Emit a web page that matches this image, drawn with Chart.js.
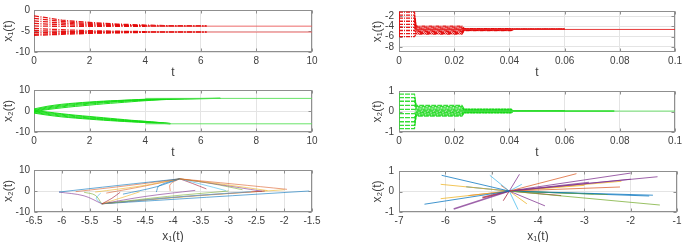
<!DOCTYPE html>
<html><head><meta charset="utf-8">
<script src="https://cdn.jsdelivr.net/npm/chart.js@4/dist/chart.umd.min.js"></script>
<style>
body{margin:0;width:685px;height:242px;overflow:hidden;background:#fff;position:relative}
canvas{position:absolute}
</style></head><body>
<canvas id="cA" width="340" height="80" style="left:0;top:0"></canvas>
<canvas id="cB" width="316" height="80" style="left:369px;top:0"></canvas>
<canvas id="cC" width="340" height="80" style="left:0;top:80px"></canvas>
<canvas id="cD" width="316" height="80" style="left:369px;top:80px"></canvas>
<canvas id="cE" width="340" height="84" style="left:0;top:160px"></canvas>
<canvas id="cF" width="316" height="84" style="left:369px;top:160px"></canvas>
<script>
// ---------- tick labels ----------
const xTicksSlow = [0, 2, 4, 6, 8, 10];
const xTicksFast = [0, 0.02, 0.04, 0.06, 0.08, 0.1];
const yTicksA = [-10, -5, 0];
const yTicksB = [-8, -6, -4, -2];
const yTicksC = [-10, 0, 10];
const yTicksD = [-1, 0, 1];
const xTicksE = [-6.5, -6, -5.5, -5, -4.5, -4, -3.5, -3, -2.5, -2, -1.5];
const yTicksE = [-10, 0, 10];
const xTicksF = [-7, -6, -5, -4, -3, -2, -1];
const yTicksF = [-1, 0, 1];

// ---------- panel A: x1(t), t in [0,10] ----------
const tA = [0, 0.5, 1, 1.5, 2, 3, 4, 5, 6.2];
const x1A = [
  [-1.4, -1.9, -2.4, -2.7, -2.95, -3.35, -3.6, -3.78, -3.85],
  [-2.0, -2.35, -2.7, -3.0, -3.2, -3.5, -3.7, -3.82, -3.85],
  [-2.6, -2.85, -3.1, -3.3, -3.45, -3.65, -3.78, -3.84, -3.85],
  [-3.2, -3.35, -3.5, -3.6, -3.68, -3.76, -3.82, -3.85, -3.85],
  [-3.8, -3.85, -3.9, -3.92, -3.92, -3.9, -3.88, -3.86, -3.85],
  [-4.4, -4.55, -4.7, -4.82, -4.92, -5.05, -5.15, -5.22, -5.25],
  [-4.9, -5.0, -5.08, -5.13, -5.17, -5.2, -5.23, -5.25, -5.25],
  [-5.4, -5.38, -5.35, -5.33, -5.31, -5.29, -5.27, -5.26, -5.25],
  [-5.8, -5.7, -5.6, -5.52, -5.45, -5.37, -5.31, -5.27, -5.25],
  [-6.05, -5.92, -5.8, -5.68, -5.55, -5.42, -5.33, -5.28, -5.25]
];
const tASteady = [4, 10];
const x1ASteady = [[-3.85, -3.85], [-5.25, -5.25]];

// ---------- panel B: x1(t), t in [0,0.1] ----------
const tB = [0, 0.0056, 0.0062, 0.0228, 0.0236, 0.0406, 0.0414, 0.06];
const x1B = [
  [-1.2, -1.2, -3.95, -3.95, -4.42, -4.42, -4.6, -4.6],
  [-1.8, -1.8, -4.15, -4.15, -4.47, -4.47, -4.6, -4.6],
  [-2.4, -2.4, -4.35, -4.35, -4.52, -4.52, -4.6, -4.6],
  [-3.0, -3.0, -4.55, -4.55, -4.57, -4.57, -4.6, -4.6],
  [-3.6, -3.6, -4.75, -4.75, -4.62, -4.62, -4.6, -4.6],
  [-4.2, -4.2, -4.95, -4.95, -4.67, -4.67, -4.6, -4.6],
  [-4.8, -4.8, -5.15, -5.15, -4.72, -4.72, -4.6, -4.6],
  [-5.4, -5.4, -5.35, -5.35, -4.77, -4.77, -4.6, -4.6],
  [-6.0, -6.0, -5.5, -5.5, -4.8, -4.8, -4.6, -4.6]
];
const tBInit = [0, 0];
const x1BInit = [-1.2, -6.0];
const tBSteady = [0.006, 0.1];
const x1BSteady = [-4.6, -4.6];

// ---------- panel C: x2(t), t in [0,10] ----------
const tCUp = [0, 0.5, 1, 1.5, 2, 2.5, 3, 3.5, 4, 5, 6.7];
const x2CUp = [
  [1.0, 2.3, 3.2, 3.8, 4.3, 4.7, 5.0, 5.3, 5.6, 5.9, 6.0],
  [0.6, 1.9, 2.8, 3.5, 4.0, 4.5, 4.9, 5.2, 5.5, 5.85, 6.0],
  [0.3, 1.5, 2.4, 3.1, 3.7, 4.2, 4.6, 5.0, 5.3, 5.8, 6.0],
  [0.0, 1.1, 2.0, 2.7, 3.3, 3.9, 4.4, 4.8, 5.1, 5.7, 6.0],
  [-0.3, 0.7, 1.5, 2.2, 2.8, 3.4, 3.9, 4.4, 4.9, 5.6, 6.0]
];
const tCLow = [0, 0.5, 1, 1.5, 2, 2.5, 3, 3.5, 4, 4.9];
const x2CLow = [
  [-1.0, -2.0, -2.8, -3.4, -3.9, -4.4, -4.8, -5.2, -5.5, -6.1],
  [-0.7, -1.6, -2.4, -3.1, -3.6, -4.1, -4.6, -5.0, -5.4, -6.05],
  [-0.4, -1.2, -2.0, -2.7, -3.3, -3.8, -4.3, -4.8, -5.2, -6.0],
  [-0.1, -0.8, -1.6, -2.3, -2.9, -3.5, -4.1, -4.6, -5.0, -5.95],
  [0.2, -0.5, -1.3, -2.0, -2.6, -3.2, -3.8, -4.4, -4.9, -5.9]
];
const tCSteady = [4, 10];
const x2CSteady = [[6.0, 6.0], [-6.1, -6.1]];

// ---------- panel D: x2(t), t in [0,0.1] ----------
const tD = [0, 0.0056, 0.0062, 0.0228, 0.0236, 0.0406, 0.0414, 0.06];
const x2D = [
  [0.85, 0.85, 0.3, 0.3, 0.12, 0.12, 0.02, 0.02],
  [0.68, 0.68, 0.24, 0.24, 0.1, 0.1, 0.02, 0.02],
  [0.5, 0.5, 0.18, 0.18, 0.07, 0.07, 0.02, 0.02],
  [0.3, 0.3, 0.12, 0.12, 0.05, 0.05, 0.02, 0.02],
  [0.1, 0.1, 0.06, 0.06, 0.03, 0.03, 0.02, 0.02],
  [-0.1, -0.1, 0.0, 0.0, 0.01, 0.01, 0.02, 0.02],
  [-0.3, -0.3, -0.06, -0.06, -0.01, -0.01, 0.02, 0.02],
  [-0.5, -0.5, -0.12, -0.12, -0.03, -0.03, 0.02, 0.02],
  [-0.68, -0.68, -0.17, -0.17, -0.05, -0.05, 0.02, 0.02],
  [-0.84, -0.84, -0.22, -0.22, -0.07, -0.07, 0.02, 0.02]
];
const tDInit = [0, 0];
const x2DInit = [0.85, -0.84];
const tDTail = [0.041, 0.078];
const x2DTail = [0.02, 0.02];
const tDSteady = [0.006, 0.1];
const x2DSteady = [0.02, 0.02];

// ---------- panel E: phase plane (x1, x2), slow ----------
const phaseEx = [
  [-6.05, -5.0, -3.88], [-5.75, -4.8, -3.88], [-5.4, -4.6, -3.88],
  [-6.05, -5.6, -5.28], [-5.6, -5.4, -5.28], [-5.3, -5.38, -5.28],
  [-4.95, -5.1, -5.28], [-4.3, -4.25, -3.88], [-4.05, -4.05, -3.88],
  [-4.6, -4.9, -5.28], [-3.6, -4.5, -5.28], [-3.0, -4.1, -5.28],
  [-2.6, -3.9, -5.28], [-2.35, -3.8, -5.28], [-1.55, -3.4, -5.28],
  [-1.95, -2.9, -3.88], [-2.3, -3.05, -3.88], [-2.4, -3.2, -3.88],
  [-2.75, -3.3, -3.88], [-3.05, -3.5, -3.88], [-3.4, -3.65, -3.88],
  [-4.9, -4.3, -3.88], [-5.2, -4.5, -3.88], [-2.0, -3.6, -5.28]
];
const phaseEy = [
  [-0.5, 2.6, 5.8], [-0.3, 2.6, 5.8], [-0.5, 2.3, 5.8],
  [-0.5, -2.3, -6.1], [-0.6, -2.0, -6.1], [-1.0, -3.5, -6.1],
  [-0.6, -3.5, -6.1], [-0.5, 2.5, 5.8], [0.0, 3.2, 5.8],
  [-0.4, -3.0, -6.1], [0.3, -2.6, -6.1], [0.0, -2.6, -6.1],
  [-0.3, -2.8, -6.1], [0.0, -2.6, -6.1], [0.0, -3.0, -6.1],
  [0.8, 3.3, 5.8], [0.2, 3.0, 5.8], [-0.1, 3.2, 5.8],
  [0.6, 3.5, 5.8], [0.2, 3.3, 5.8], [1.0, 3.6, 5.8],
  [-1.5, 2.0, 5.8], [-1.0, 2.4, 5.8], [0.6, -2.4, -6.1]
];

// ---------- panel F: phase plane (x1, x2), fast ----------
const centerF = [-4.62, 0.02];
const startFx = [-6.08, -6.45, -5.82, -5.04, -4.4, -3.17, -2.0, -1.42, -1.37, -1.52,
  -3.85, -4.43, -4.24, -6.1, -6.1, -5.55, -2.23, -2.8, -2.0, -2.2,
  -4.75, -5.5, -3.0, -2.5, -4.35, -4.8, -3.5, -5.2, -1.6, -2.9];
const startFy = [0.79, -0.62, -0.85, 0.79, 0.84, 0.87, 0.9, 0.72, -0.66, -0.18,
  -0.7, -0.88, -0.6, 0.35, -0.35, 0.23, 0.22, -0.12, 0.6, 0.5,
  -0.45, -0.2, 0.3, -0.15, 0.35, 0.3, -0.2, -0.3, -0.22, 0.45];

// ---------- styling ----------
const palette = ['rgba(0,114,189,0.75)', 'rgba(217,83,25,0.7)', 'rgba(237,177,32,0.75)',
  'rgba(126,47,142,0.75)', 'rgba(119,172,48,0.75)', 'rgba(77,190,238,0.8)', 'rgba(162,20,47,0.75)'];
const colorIdxF = [0, 0, 3, 5, 3, 1, 3, 3, 4, 0, 3, 5, 2, 2, 2, 0, 1, 4, 3, 2, 6, 1, 2, 4, 5, 1, 6, 6, 0, 3];
const FONT = "'Liberation Sans', Arial, 'DejaVu Sans', sans-serif";
const TXT = '#404040';

function line(xs, ys, color, width, dash, tension) {
  return {
    data: xs.map((x, i) => ({x: x, y: ys[i]})),
    borderColor: color, borderWidth: width, borderDash: dash || [],
    showLine: true, pointRadius: 0, fill: false, tension: tension || 0
  };
}
function fmt(v) { return String(Math.round(v * 1000) / 1000); }

const boxPlugin = {
  id: 'box',
  beforeDatasetsDraw(chart) {
    const {ctx, chartArea: a} = chart;
    const xs = chart.scales.x, ys = chart.scales.y;
    ctx.save();
    ctx.strokeStyle = '#8f8f8f';
    ctx.lineWidth = 1;
    const L = Math.round(a.left) + 0.5, T = Math.round(a.top) + 0.5;
    const R = Math.round(a.right) - 0.5, B = Math.round(a.bottom) - 0.5;
    ctx.strokeRect(L, T, R - L, B - T);
    ctx.beginPath();
    xs.ticks.forEach(t => {
      const p = Math.round(xs.getPixelForValue(t.value)) + 0.5;
      ctx.moveTo(p, B); ctx.lineTo(p, B - 3);
      ctx.moveTo(p, T); ctx.lineTo(p, T + 3);
    });
    ys.ticks.forEach(t => {
      const p = Math.round(ys.getPixelForValue(t.value)) + 0.5;
      ctx.moveTo(L, p); ctx.lineTo(L + 3, p);
      ctx.moveTo(R, p); ctx.lineTo(R - 3, p);
    });
    ctx.stroke();
    ctx.restore();
  }
};

function makeChart(id, datasets, c) {
  return new Chart(document.getElementById(id), {
    type: 'scatter',
    data: {datasets: datasets},
    plugins: [boxPlugin],
    options: {
      responsive: false, animation: false, devicePixelRatio: 1,
      layout: {padding: {top: c.padTop, right: c.padRight, left: 0, bottom: 0}},
      plugins: {legend: {display: false}, tooltip: {enabled: false}},
      scales: {
        x: {
          type: 'linear', min: c.xMin, max: c.xMax,
          afterBuildTicks: s => { s.ticks = c.xTicks.map(v => ({value: v})); },
          afterFit: s => { s.height = c.xH; },
          grid: {color: '#e4e4e4', drawTicks: false},
          border: {display: false},
          ticks: {padding: 3, autoSkip: false, maxRotation: 0, color: TXT,
                  font: {family: FONT, size: 10}, callback: v => fmt(v)},
          title: {display: true, text: c.xTitle, color: TXT,
                  font: {family: FONT, size: 12, lineHeight: 1.2}, padding: {top: 0, bottom: 0}}
        },
        y: {
          type: 'linear', min: c.yMin, max: c.yMax,
          afterBuildTicks: s => { s.ticks = c.yTicks.map(v => ({value: v})); },
          afterFit: s => { s.width = c.yW; },
          grid: {color: '#e4e4e4', drawTicks: false},
          border: {display: false},
          ticks: {padding: c.yPad, autoSkip: false, color: TXT,
                  font: {family: FONT, size: 10}, callback: v => fmt(v)},
          title: {display: true, text: c.yTitle, color: TXT,
                  font: {family: FONT, size: 12, lineHeight: 1.2}, padding: {top: 1, bottom: 0}}
        }
      }
    }
  });
}

const RED = 'rgba(228,10,10,0.95)';
const GREEN = 'rgba(20,220,20,0.95)';

// Panel A
const dsA = [];
x1ASteady.forEach(v => dsA.push(line(tASteady, v, 'rgba(235,90,90,0.9)', 1)));
x1A.forEach(v => dsA.push(line(tA, v, RED, 1.3, [5, 1.5, 1, 1.5])));
makeChart('cA', dsA, {xMin: 0, xMax: 10, yMin: -10, yMax: 0, xTicks: xTicksSlow, yTicks: yTicksA,
  xTitle: 't', yTitle: 'x\u2081(t)', yW: 34, xH: 28, padTop: 7, padRight: 28, yPad: 4});

// Panel B
const dsB = [line(tBSteady, x1BSteady, 'rgba(230,40,40,0.9)', 1), line(tBInit, x1BInit, RED, 1)];
x1B.forEach(v => dsB.push(line(tB, v, RED, 1.3, [4, 1, 1, 1])));
makeChart('cB', dsB, {xMin: 0, xMax: 0.1, yMin: -9, yMax: -1, xTicks: xTicksFast, yTicks: yTicksB,
  xTitle: 't', yTitle: 'x\u2081(t)', yW: 30, xH: 28, padTop: 7, padRight: 8, yPad: 5});

// Panel C
const dsC = [];
x2CSteady.forEach(v => dsC.push(line(tCSteady, v, 'rgba(90,225,90,0.9)', 1)));
x2CUp.forEach(v => dsC.push(line(tCUp, v, GREEN, 1, [], 0.3)));
x2CLow.forEach(v => dsC.push(line(tCLow, v, GREEN, 1, [], 0.3)));
makeChart('cC', dsC, {xMin: 0, xMax: 10, yMin: -10, yMax: 10, xTicks: xTicksSlow, yTicks: yTicksC,
  xTitle: 't', yTitle: 'x\u2082(t)', yW: 34, xH: 28, padTop: 7, padRight: 28, yPad: 4});

// Panel D
const dsD = [line(tDSteady, x2DSteady, 'rgba(100,225,100,0.9)', 1), line(tDTail, x2DTail, GREEN, 1.6),
  line(tDInit, x2DInit, 'rgba(60,210,60,0.8)', 1)];
x2D.forEach(v => dsD.push(line(tD, v, 'rgba(20,215,20,0.85)', 1.3, [5, 1])));
makeChart('cD', dsD, {xMin: 0, xMax: 0.1, yMin: -1, yMax: 1, xTicks: xTicksFast, yTicks: yTicksD,
  xTitle: 't', yTitle: 'x\u2082(t)', yW: 30, xH: 28, padTop: 7, padRight: 8, yPad: 5});

// Panel E
const dsE = phaseEx.map((xs, i) => line(xs, phaseEy[i], palette[i % palette.length], 0.8, [], 0.35));
makeChart('cE', dsE, {xMin: -6.5, xMax: -1.5, yMin: -10, yMax: 10, xTicks: xTicksE, yTicks: yTicksE,
  xTitle: 'x\u2081(t)', yTitle: 'x\u2082(t)', yW: 34, xH: 32, padTop: 7, padRight: 28, yPad: 4});

// Panel F
const dsF = startFx.map((x, i) => line([x, centerF[0]], [startFy[i], centerF[1]],
  palette[colorIdxF[i]], (i === 2 || i === 27) ? 1.6 : 1));
makeChart('cF', dsF, {xMin: -7, xMax: -1, yMin: -1, yMax: 1, xTicks: xTicksF, yTicks: yTicksF,
  xTitle: 'x\u2081(t)', yTitle: 'x\u2082(t)', yW: 30, xH: 32, padTop: 7, padRight: 8, yPad: 5});
</script>
</body></html>
